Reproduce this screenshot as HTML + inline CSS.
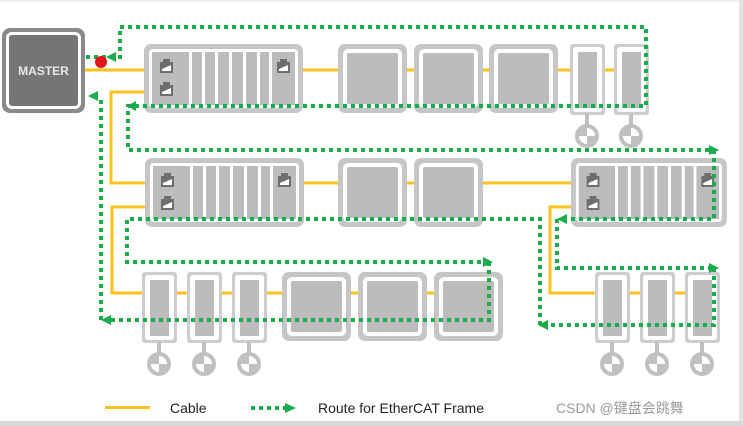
<!DOCTYPE html>
<html><head><meta charset="utf-8"><style>
html,body{margin:0;padding:0;background:#fff;}
svg{display:block;}
text{font-family:"Liberation Sans","Noto Sans CJK SC",sans-serif;}
</style></head><body>
<svg width="743" height="426" viewBox="0 0 743 426" xmlns="http://www.w3.org/2000/svg">
<defs>
<g id="port"><path d="M3 0h7v3h3v11H0V3h3z" fill="#6e6e6e"/><path d="M2 10l9-4v6H2z" fill="#fff"/></g>
<g id="cpl">
<rect x="0" y="0" width="159" height="69" rx="7" fill="#c6c6c6"/>
<rect x="5" y="5" width="149" height="59" rx="4" fill="#fff"/>
<rect x="8" y="8" width="143" height="53" fill="#bcbcbc"/>
<rect x="45" y="8" width="3" height="53" fill="#fff"/>
<rect x="58" y="8" width="3" height="53" fill="#fff"/>
<rect x="71" y="8" width="3" height="53" fill="#fff"/>
<rect x="85" y="8" width="3" height="53" fill="#fff"/>
<rect x="99" y="8" width="3" height="53" fill="#fff"/>
<rect x="113" y="8" width="3" height="53" fill="#fff"/>
<rect x="125" y="8" width="3" height="53" fill="#fff"/>
<use href="#port" x="16" y="15"/><use href="#port" x="16" y="38"/><use href="#port" x="133" y="15"/>
</g>
<g id="big">
<rect x="0" y="0" width="69" height="69" rx="7" fill="#c6c6c6"/>
<rect x="5" y="5" width="59" height="59" rx="5" fill="#fff"/>
<rect x="9" y="9" width="51" height="51" rx="2" fill="#bcbcbc"/>
</g>
<g id="nar">
<rect x="0" y="0" width="35" height="71" rx="3" fill="#cdcdcd"/>
<rect x="3" y="3" width="29" height="65" rx="3" fill="#fff"/>
<rect x="8" y="8" width="19" height="56" fill="#bcbcbc"/>
</g>
<g id="mot">
<rect x="-2" y="-22" width="4" height="12" fill="#c0c0c0"/>
<circle r="12" fill="#c0c0c0"/>
<path d="M0 0V-8A8 8 0 0 1 8 0z M0 0V8A8 8 0 0 1 -8 0z" fill="#fff"/>
</g>
</defs>
<rect x="0" y="0" width="743" height="2" fill="#eee"/>
<rect x="739" y="0" width="4" height="426" fill="#e4e4e4"/>
<rect x="0" y="421" width="743" height="5" fill="#d8d8d8"/>

<g stroke="#fcc21b" stroke-width="3" fill="none">
<path d="M84 70H645"/>
<path d="M145 92H111V183H720"/>
<path d="M145 207H112V293H500"/>
<path d="M571 207H550V293H720"/>
</g>

<rect x="2" y="28" width="83" height="85" rx="8" fill="#8a8a8a"/>
<rect x="6" y="32" width="75" height="77" rx="6" fill="#fff"/>
<rect x="9" y="35" width="69" height="71" rx="3" fill="#757575"/>
<text x="43.5" y="75" font-size="12" font-weight="bold" fill="#e8e8e8" text-anchor="middle">MASTER</text>

<use href="#cpl" x="144" y="44"/>
<use href="#big" x="338" y="44"/><use href="#big" x="414" y="44"/><use href="#big" x="489" y="44"/>
<use href="#nar" x="570" y="44"/><use href="#nar" x="614" y="44"/>
<use href="#mot" x="587" y="136"/><use href="#mot" x="631" y="136"/>
<use href="#cpl" x="145" y="158"/>
<use href="#big" x="338" y="158"/><use href="#big" x="414" y="158"/>
<g transform="translate(571 158) scale(0.98 1)"><use href="#cpl"/></g>
<use href="#nar" x="142" y="272"/><use href="#nar" x="187" y="272"/><use href="#nar" x="232" y="272"/>
<use href="#big" x="282" y="272"/><use href="#big" x="358" y="272"/><use href="#big" x="434" y="272"/>
<use href="#mot" x="159" y="364"/><use href="#mot" x="204" y="364"/><use href="#mot" x="249" y="364"/>
<use href="#nar" x="595" y="272"/><use href="#nar" x="640" y="272"/><use href="#nar" x="685" y="272"/>
<use href="#mot" x="612" y="364"/><use href="#mot" x="657" y="364"/><use href="#mot" x="702" y="364"/>

<g stroke="#1aab4a" stroke-width="4" stroke-dasharray="4 4" fill="none">
<path d="M86 57H120V27H646V106H128V150H710"/>
<path d="M714 150V219H565"/>
<path d="M557 219V268H710"/>
<path d="M714 268V325H545"/>
<path d="M540 325V219H127V262H485"/>
<path d="M489 262V320H108"/>
<path d="M101 320V96"/>
</g>
<g fill="#1aab4a">
<path d="M106 57l10-5v10z"/>
<path d="M127 106l9-5v10z"/>
<path d="M719 150l-10-5v10z"/>
<path d="M557 219l10-5v10z"/>
<path d="M719 268l-10-5v10z"/>
<path d="M538 325l10-5v10z"/>
<path d="M493 262l-10-5v10z"/>
<path d="M101 320l10-5v10z"/>
<path d="M88 96l10-5v10z"/>
</g>
<circle cx="101" cy="62" r="6" fill="#e8141a"/>

<rect x="105" y="406" width="45" height="3" fill="#fcc21b"/>
<text x="170" y="413" font-size="14" fill="#222">Cable</text>
<path d="M251 408H285" stroke="#1aab4a" stroke-width="4" stroke-dasharray="4 4"/>
<path d="M296 408l-11-5v10z" fill="#1aab4a"/>
<text x="318" y="413" font-size="14" fill="#222">Route for EtherCAT Frame</text>
<text x="556" y="413" font-size="14" fill="#9a9a9a">CSDN @键盘会跳舞</text>
</svg>
</body></html>
